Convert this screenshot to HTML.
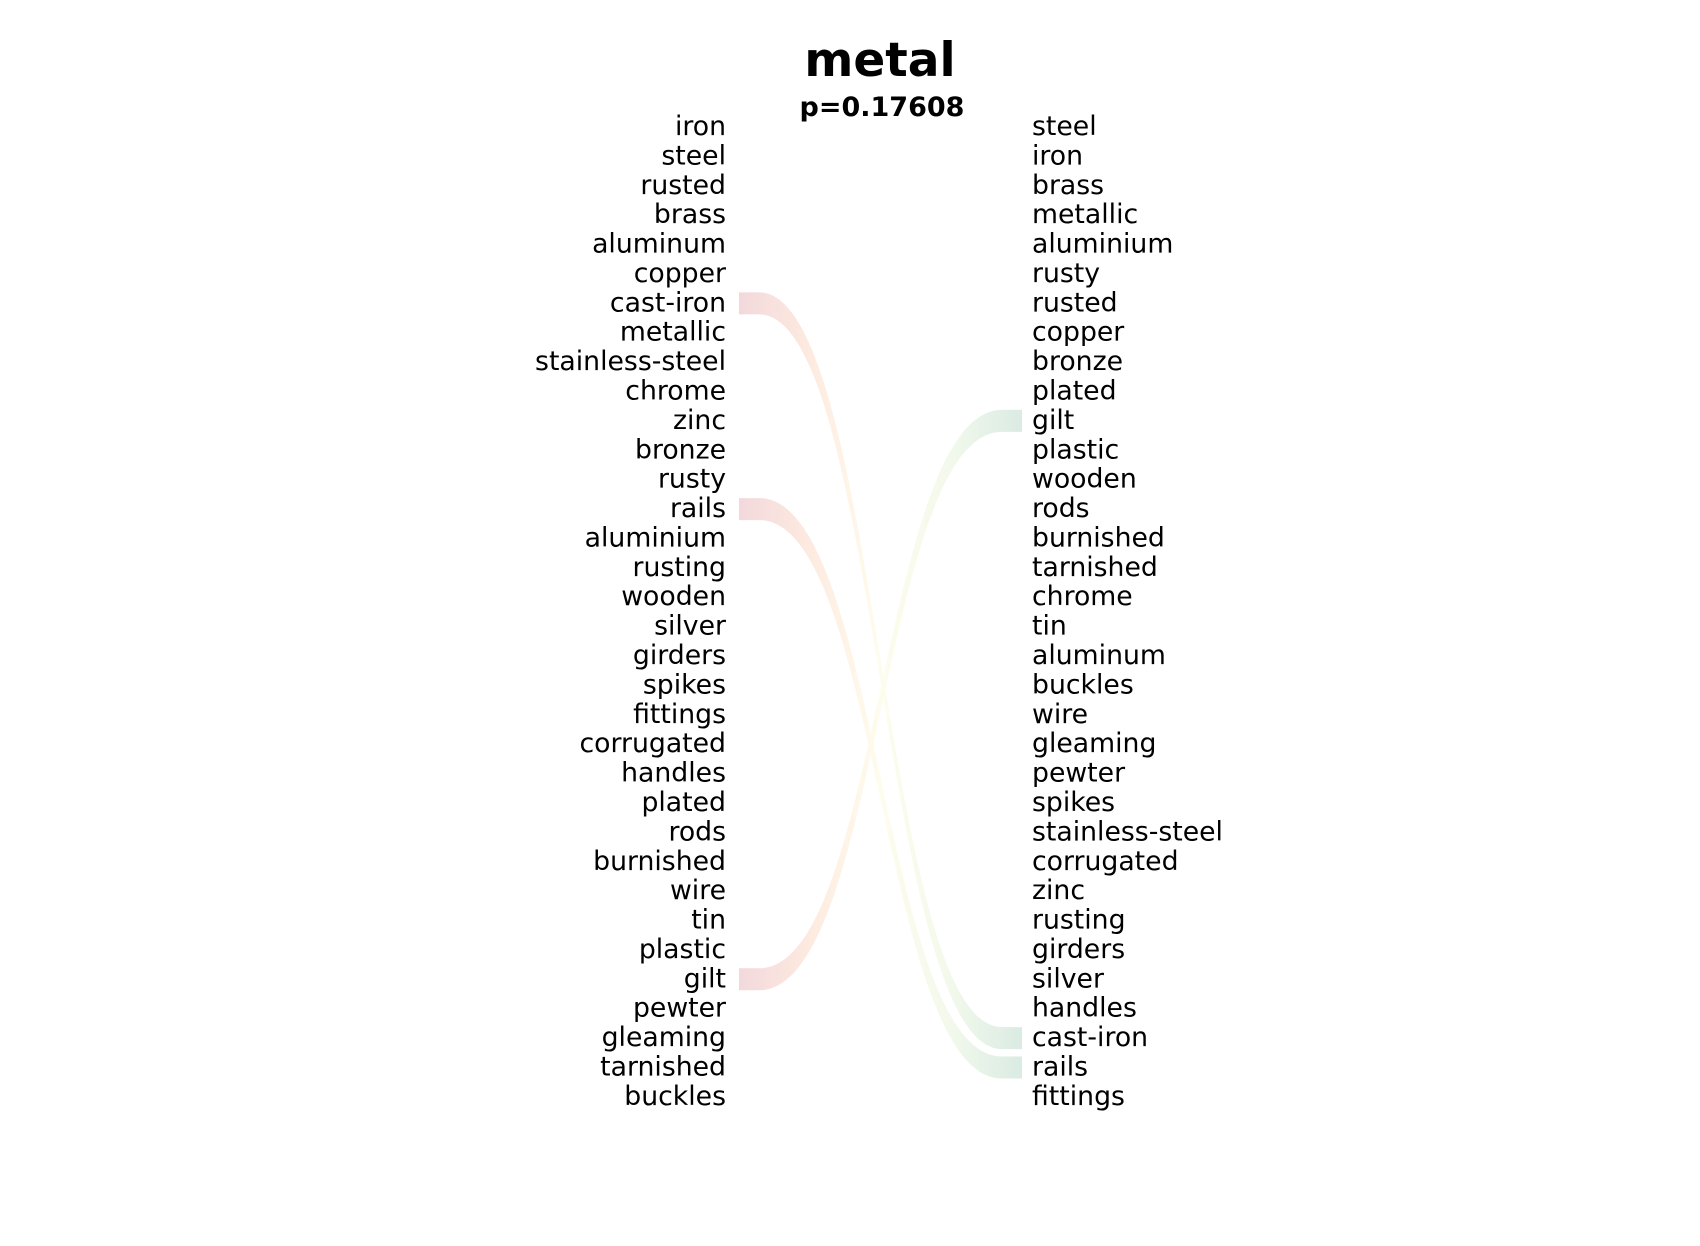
<!DOCTYPE html>
<html><head><meta charset="utf-8"><style>
html,body{margin:0;padding:0;background:#fff;}
svg{display:block;font-family:"DejaVu Sans","Liberation Sans",sans-serif;}
</style></head><body>
<svg id="chart" width="1700" height="1246" viewBox="0 0 1700 1246">
<defs>
<linearGradient id="rib" gradientUnits="userSpaceOnUse" x1="739" y1="0" x2="1022" y2="0">
<stop offset="0" stop-color="#f1d4d8"/>
<stop offset="0.25" stop-color="#fde8dc"/>
<stop offset="0.5" stop-color="#fefcec"/>
<stop offset="0.75" stop-color="#f1f8ea"/>
<stop offset="1" stop-color="#d6e9e0"/>
</linearGradient>
</defs>
<text x="880" y="76" text-anchor="middle" font-size="47" font-weight="bold">metal</text>
<text x="882" y="116" text-anchor="middle" font-size="27" font-weight="bold">p=0.17608</text>
<g id="ribbons"></g>
<g id="labels"></g>
</svg>
<script>
const leftWords = ["iron","steel","rusted","brass","aluminum","copper","cast-iron","metallic","stainless-steel","chrome","zinc","bronze","rusty","rails","aluminium","rusting","wooden","silver","girders","spikes","fittings","corrugated","handles","plated","rods","burnished","wire","tin","plastic","gilt","pewter","gleaming","tarnished","buckles"];
const rightWords = ["steel","iron","brass","metallic","aluminium","rusty","rusted","copper","bronze","plated","gilt","plastic","wooden","rods","burnished","tarnished","chrome","tin","aluminum","buckles","wire","gleaming","pewter","spikes","stainless-steel","corrugated","zinc","rusting","girders","silver","handles","cast-iron","rails","fittings"];
const linkedWords = ["cast-iron","rails","gilt"];

const NS = "http://www.w3.org/2000/svg";
const y0 = 126, dy = 29.39;
const rowY = i => y0 + i * dy;
const labels = document.getElementById('labels');
const ribbons = document.getElementById('ribbons');

leftWords.forEach((w, i) => {
  const t = document.createElementNS(NS, 'text');
  
  
  t.setAttribute('x', 726);
  t.setAttribute('y', rowY(i) + 9);
  t.setAttribute('text-anchor', 'end');
  t.setAttribute('font-size', '26.7');
  t.textContent = w;
  labels.appendChild(t);
});
rightWords.forEach((w, i) => {
  const t = document.createElementNS(NS, 'text');
  
  
  t.setAttribute('x', 1032);
  t.setAttribute('y', rowY(i) + 9);
  t.setAttribute('font-size', '26.7');
  t.textContent = w;
  labels.appendChild(t);
});

const xL = 739, xR = 1022, flat = 20, h = 22;
linkedWords.forEach(w => {
  const li = leftWords.indexOf(w), ri = rightWords.indexOf(w);
  const a = rowY(li) - 10, b = rowY(ri) - 10;
  const x1 = xL + flat, x2 = xR - flat, mx = (x1 + x2) / 2;
  const d = `M${xL},${a} H${x1} C${mx},${a} ${mx},${b} ${x2},${b} H${xR} V${b+h} H${x2} C${mx},${b+h} ${mx},${a+h} ${x1},${a+h} H${xL} Z`;
  const p = document.createElementNS(NS, 'path');
  
  
  p.setAttribute('d', d);
  p.setAttribute('fill', 'url(#rib)');
  p.setAttribute('fill-opacity', '0.9');
  ribbons.appendChild(p);
});
</script>
</body></html>
